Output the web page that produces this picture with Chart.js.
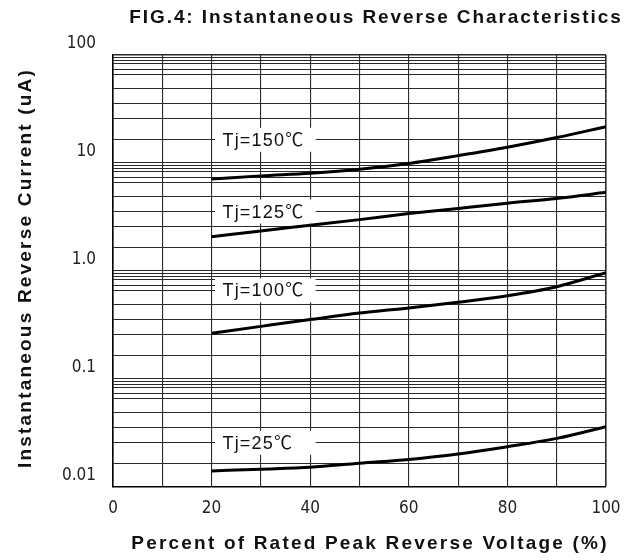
<!DOCTYPE html>
<html>
<head>
<meta charset="utf-8">
<script src="https://cdn.jsdelivr.net/npm/chart.js@4/dist/chart.umd.min.js"></script>
<style>
  html, body { margin: 0; padding: 0; background: #fff; }
  #wrap { width: 633px; height: 560px; }
</style>
</head>
<body>
<div id="wrap"><canvas id="chartReverse" width="633" height="560"></canvas></div>
<script>
// --- data ---
const voltagePct = [20, 30, 40, 50, 60, 70, 80, 90, 100];
const tj150 = [7.1, 7.6, 8.05, 8.75, 9.9, 11.7, 14.0, 17.2, 21.7];
const tj125 = [2.08, 2.35, 2.65, 2.99, 3.4, 3.8, 4.24, 4.7, 5.35];
const tj100 = [0.265, 0.307, 0.355, 0.408, 0.455, 0.513, 0.59, 0.716, 0.964];
const tj25 = [0.0141, 0.0146, 0.0152, 0.0166, 0.018, 0.0202, 0.0236, 0.0282, 0.0362];

const seriesNames = ['Tj=150℃', 'Tj=125℃', 'Tj=100℃', 'Tj=25℃'];
const labelValues = [16.4, 3.55, 0.661, 0.0257];   // leader line level of each label (uA)

const decades = [0.01, 0.1, 1, 10];
const decadeLabels = { '100': '100', '10': '10', '1': '1.0', '0.1': '0.1', '0.01': '0.01' };
// the printed grid is not a true log grid, these are the lines inside each decade
const gridSteps = [1, 1.64, 2.57, 3.55, 4.90, 6.61, 7.41, 8.32, 8.91, 9.55];
const xTickLabels = [0, 20, 40, 60, 80, 100];

const gridValues = [];
decades.forEach(d => gridSteps.forEach(s => gridValues.push(+(d * s).toPrecision(4))));
gridValues.push(100);

const tickFont = { family: '"Liberation Sans Narrow", "Arial Narrow", "DejaVu Sans Condensed", sans-serif', size: 17 };
const titleFont = 'bold 19px "Liberation Sans", Arial, sans-serif';

// labels "Tj=..." sitting on a grid line, white box hides the grid behind
const tjLabels = {
    id: 'tjLabels',
    beforeDatasetsDraw(chart) {
        const { ctx, scales: { x, y } } = chart;
        ctx.save();
        ctx.font = '18px "Liberation Sans", Arial, "Noto Sans CJK SC", sans-serif';
        ctx.letterSpacing = '1.2px';
        ctx.textBaseline = 'middle';
        seriesNames.forEach((t, i) => {
            const py = y.getPixelForValue(labelValues[i]);
            const x0 = x.getPixelForValue(20.7);
            const x1 = x.getPixelForValue(41.1);
            ctx.fillStyle = '#fff';
            ctx.fillRect(x0, py - 12, x1 - x0, 24);
            ctx.fillStyle = '#111';
            ctx.fillText(t, x.getPixelForValue(22.2), py + 1);
        });
        ctx.restore();
    }
};

// spaced bold titles (canvas letterSpacing)
const spacedTitles = {
    id: 'spacedTitles',
    afterDraw(chart) {
        const ctx = chart.ctx;
        ctx.save();
        ctx.fillStyle = '#111';
        ctx.font = titleFont;
        ctx.textAlign = 'center';
        ctx.textBaseline = 'middle';
        ctx.letterSpacing = '1.9px';
        ctx.fillText('FIG.4: Instantaneous Reverse Characteristics', 376, 18);
        ctx.letterSpacing = '2.2px';
        ctx.fillText('Percent of Rated Peak Reverse Voltage (%)', 370, 544);
        ctx.translate(26, 268);
        ctx.rotate(-Math.PI / 2);
        ctx.fillText('Instantaneous Reverse Current (uA)', 0, 0);
        ctx.restore();
    }
};

const ctxRev = document.getElementById('chartReverse').getContext('2d');
const lineStyle = { borderColor: '#000', borderWidth: 3, pointRadius: 0, tension: 0.4, cubicInterpolationMode: 'monotone', fill: false };

new Chart(ctxRev, {
    type: 'line',
    data: {
        labels: voltagePct,
        datasets: [
            { label: seriesNames[0], data: tj150, ...lineStyle },
            { label: seriesNames[1], data: tj125, ...lineStyle },
            { label: seriesNames[2], data: tj100, ...lineStyle },
            { label: seriesNames[3], data: tj25, ...lineStyle }
        ].map(ds => ({ ...ds, data: ds.data.map((v, i) => ({ x: voltagePct[i], y: v })) }))
    },
    options: {
        responsive: false,
        animation: false,
        layout: { padding: { top: 55, right: 27, left: 0, bottom: 0 } },
        plugins: {
            legend: { display: false },
            tooltip: { enabled: false }
        },
        scales: {
            x: {
                type: 'linear',
                min: 0,
                max: 100,
                afterFit: s => { s.height = 73; },
                ticks: {
                    stepSize: 10,
                    padding: 11,
                    color: '#222',
                    font: tickFont,
                    maxRotation: 0,
                    autoSkip: false,
                    callback: v => xTickLabels.includes(v) ? String(v) : ''
                },
                grid: {
                    drawTicks: false,
                    color: '#2a2a2a',
                    lineWidth: c => (c.tick && c.tick.value === 100) ? 1.6 : 1.1
                },
                border: { color: '#000', width: 1.6 }
            },
            y: {
                type: 'logarithmic',
                min: 0.01,
                max: 100,
                afterFit: s => { s.width = 113; },
                afterBuildTicks: s => { s.ticks = gridValues.map(v => ({ value: v })); },
                ticks: {
                    padding: 17,
                    labelOffset: -11,
                    color: '#222',
                    font: tickFont,
                    autoSkip: false,
                    callback: v => decadeLabels[String(v)] || ''
                },
                grid: {
                    drawTicks: false,
                    color: '#2a2a2a',
                    lineWidth: c => (c.tick && c.tick.value === 100) ? 1.6 : 1.1
                },
                border: { color: '#000', width: 1.6 }
            }
        }
    },
    plugins: [tjLabels, spacedTitles]
});
</script>
</body>
</html>
